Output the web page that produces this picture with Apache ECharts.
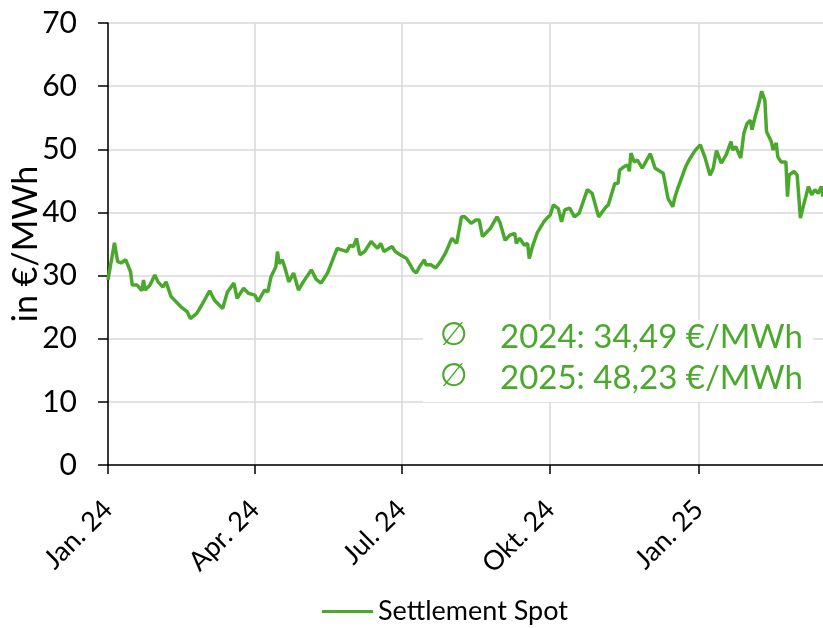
<!DOCTYPE html>
<html>
<head>
<meta charset="utf-8">
<script src="https://cdn.jsdelivr.net/npm/echarts@6/dist/echarts.min.js"></script>
<style>
  html, body { margin: 0; padding: 0; background: #fff; }
  #chart { width: 823px; height: 628px; }
</style>
</head>
<body>
<div id="chart"></div>
<script>
// trading days, counted from 1 Jan 2024
const dayOffsets = [
  0, 4, 6, 8, 11, 14, 15, 18, 21, 22, 23, 26, 29, 31, 34, 36, 39, 45, 49, 51,
  55, 58, 63, 66, 71, 74, 78, 80, 84, 87, 91, 93, 97, 99, 101, 104, 105, 106, 108, 110,
  112, 115, 118, 121, 126, 129, 132, 136, 142, 148, 150, 152, 154, 156, 159, 163, 167, 169, 171, 176,
  178, 181, 185, 189, 191, 193, 196, 197, 200, 203, 206, 209, 213, 216, 219, 221, 225, 228, 230, 232,
  237, 241, 243, 246, 249, 252, 253, 255, 258, 260, 261, 263, 266, 270, 272, 274, 276, 279, 281, 283,
  286, 289, 292, 294, 297, 300, 304, 308, 310, 314, 316, 317, 320, 322, 323, 324, 326, 328, 331, 336,
  339, 344, 347, 350, 351, 353, 358, 360, 364, 367, 370, 373, 375, 377, 380, 383, 386, 387, 389, 392,
  394, 396, 398, 399, 401, 403, 405, 407, 408, 411, 412, 414, 415, 417, 420, 421, 422, 425, 427, 429,
  431, 434, 436, 438, 440, 442, 443
];
const spotPrices = [
  29.3, 35.2, 32.2, 32.0, 32.5, 30.6, 28.5, 28.5, 27.6, 29.3, 27.7, 28.5, 30.1, 29.0, 28.2, 29.0, 26.7, 25.1, 24.3, 23.2,
  24.0, 25.3, 27.6, 26.1, 24.8, 27.4, 28.8, 26.4, 28.0, 27.2, 26.9, 25.9, 27.7, 27.4, 29.8, 31.4, 33.8, 31.9, 32.5, 30.9,
  29.0, 30.4, 27.7, 29.0, 30.9, 29.4, 28.8, 30.4, 34.3, 33.8, 34.8, 34.6, 35.9, 33.3, 33.8, 35.4, 34.3, 35.1, 33.8, 34.6,
  33.8, 33.3, 32.7, 30.9, 30.4, 31.4, 32.5, 31.7, 31.7, 31.2, 32.2, 33.5, 35.9, 35.1, 39.3, 39.3, 38.3, 38.8, 38.8, 36.2,
  37.5, 39.3, 38.3, 35.6, 36.4, 36.7, 35.1, 35.9, 34.8, 35.1, 32.7, 34.6, 36.8, 38.5, 39.1, 39.6, 41.2, 40.6, 38.5, 40.4,
  40.7, 39.3, 39.9, 41.4, 43.6, 43.0, 39.3, 40.7, 41.2, 44.6, 44.6, 46.7, 47.3, 47.5, 46.5, 49.4, 48.0, 48.3, 47.0, 49.3,
  47.0, 46.2, 42.2, 40.9, 42.2, 43.8, 47.3, 48.3, 49.9, 50.7, 48.6, 45.9, 47.0, 49.8, 47.8, 49.1, 51.2, 49.9, 50.4, 48.6,
  52.6, 54.1, 54.6, 53.1, 55.2, 57.0, 59.2, 57.7, 52.8, 51.2, 49.9, 51.0, 48.8, 48.0, 48.0, 42.5, 45.9, 46.5, 45.9, 39.1,
  41.2, 44.1, 42.8, 43.6, 43.0, 44.1, 42.5
];
const tickDates = ['2024-01-01', '2024-04-01', '2024-07-01', '2024-10-01', '2025-01-01'];
const monthNames = ['Jan.', 'Feb.', 'Mär.', 'Apr.', 'Mai', 'Jun.', 'Jul.', 'Aug.', 'Sep.', 'Okt.', 'Nov.', 'Dez.'];
const averageLabels = ['2024: 34,49 €/MWh', '2025: 48,23 €/MWh'];

const green = '#4aa92c';
const font = 'Lato, "Open Sans", sans-serif';
const DAY = 86400000;
const start = Date.UTC(2024, 0, 1);
const seriesData = dayOffsets.map((d, i) => [start + d * DAY, spotPrices[i]]);
const tickTimes = tickDates.map(s => Date.parse(s + 'T00:00:00Z'));

const chart = echarts.init(document.getElementById('chart'));
chart.setOption({
  animation: false,
  grid: {
    left: 108, right: 0, top: 23, bottom: 163,
    containLabel: false,
    outerBoundsMode: 'none'
  },
  legend: {
    left: 317, top: 593,
    itemWidth: 51, itemHeight: 3,
    itemGap: 6,
    icon: 'rect',
    textStyle: { fontFamily: font, fontSize: 27, color: '#000' },
    data: ['Settlement Spot']
  },
  xAxis: {
    type: 'value',
    min: start,
    max: start + dayOffsets[dayOffsets.length - 1] * DAY,
    axisLine: { lineStyle: { color: '#000', width: 1.5 } },
    axisTick: { show: true, length: 9, customValues: tickTimes, lineStyle: { color: '#000', width: 1.5 } },
    axisLabel: {
      customValues: tickTimes,
      rotate: 45,
      margin: 40,
      fontFamily: font,
      fontSize: 27,
      color: '#000',
      formatter: v => {
        const d = new Date(v);
        return monthNames[d.getUTCMonth()] + ' ' + String(d.getUTCFullYear()).slice(2);
      }
    },
    splitLine: { show: true, lineStyle: { color: '#d9d9d9', width: 1.5 } }
  },
  yAxis: {
    type: 'value',
    min: 0, max: 70, interval: 10,
    name: 'in €/MWh',
    nameLocation: 'middle',
    nameGap: 65,
    nameMoveOverlap: false,
    nameTextStyle: { fontFamily: font, fontSize: 34, color: '#000' },
    axisLine: { show: true, lineStyle: { color: '#000', width: 1.5 } },
    axisTick: { show: true, length: 10, lineStyle: { color: '#000', width: 1.5 } },
    axisLabel: { margin: 31, fontFamily: font, fontSize: 30, color: '#000' },
    splitLine: { lineStyle: { color: '#d9d9d9', width: 1.5 } }
  },
  graphic: [
    { type: 'rect', left: 423, top: 320, shape: { width: 390, height: 82 }, style: { fill: '#fff' }, z: 100 },
    { type: 'text', left: 440, top: 321, style: { text: '∅', font: '32px "DejaVu Sans"', fill: green }, z: 101 },
    { type: 'text', left: 500, top: 321, style: { text: averageLabels[0], font: '33px ' + font, fill: green }, z: 101 },
    { type: 'text', left: 440, top: 362, style: { text: '∅', font: '32px "DejaVu Sans"', fill: green }, z: 101 },
    { type: 'text', left: 500, top: 362, style: { text: averageLabels[1], font: '33px ' + font, fill: green }, z: 101 }
  ],
  series: [{
    name: 'Settlement Spot',
    type: 'line',
    data: seriesData,
    symbol: 'none',
    lineStyle: { color: green, width: 3.5 },
    itemStyle: { color: green }
  }]
});
</script>
</body>
</html>
